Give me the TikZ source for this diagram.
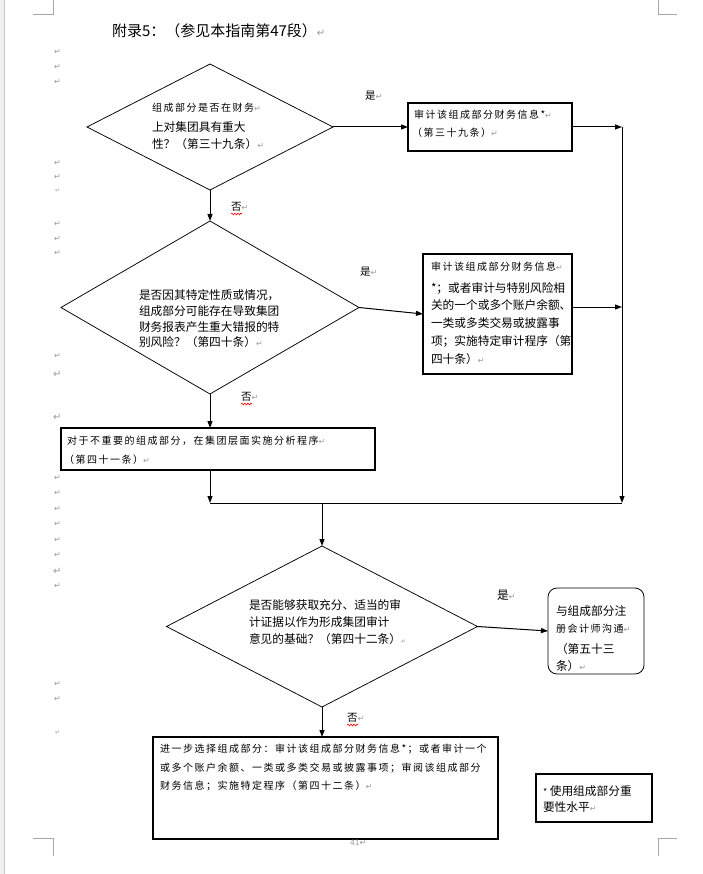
\documentclass[tikz,border=0pt]{standalone}
\usepackage{fontspec}
\setmainfont{Noto Sans CJK SC}
\newfontfamily\cjk{Noto Sans CJK SC}
\newfontfamily\cjksp[LetterSpace=15]{Noto Sans CJK SC}
\newfontfamily\dv{DejaVu Sans}
\usetikzlibrary{shapes.geometric,arrows.meta,decorations.pathmorphing}
\definecolor{retgray}{HTML}{9A9A9A}
\definecolor{cropgray}{HTML}{A8A8A8}
\newcommand\rmk{{\dv\fontsize{8}{9}\selectfont\textcolor{retgray}{↵}}}
\newcommand\bigrmk{{\dv\fontsize{10}{11}\selectfont\textcolor{retgray}{↵}}}
\newcommand\smallrmk{{\dv\fontsize{6}{7}\selectfont\textcolor{retgray}{↵}}}
\newcommand\bigtxt{\cjk\fontsize{11.7}{14}\selectfont}
\newcommand\smtxt{\cjksp\fontsize{10}{12}\selectfont}
\newcommand\labtxt{\cjk\fontsize{10.5}{12}\selectfont}
\begin{document}
\begin{tikzpicture}[x=1pt,y=-1pt,
  diam/.style={draw, diamond, line width=0.75pt, inner sep=0pt, outer sep=0pt},
  boxn/.style={draw, rectangle, line width=1.1pt, inner sep=0pt, outer sep=0pt},
  conn/.style={line width=1pt, -{Triangle[length=7pt,width=5pt]}},
  plainln/.style={line width=1pt},
  txt/.style={anchor=west, inner sep=0pt, outer sep=0pt},
  crop/.style={draw=cropgray, line width=0.8pt},
  squig/.style={draw=red, line width=0.6pt, decorate, decoration={snake, amplitude=0.9pt, segment length=3pt}}
]
\useasboundingbox (0,0) rectangle (702,874);
\fill[white] (0,0) rectangle (702,874);
\fill[gray!12] (0,0) rectangle (4,874);
\draw[gray!45] (4,0) -- (4,874);
% crop marks
\draw[crop] (33,14) -- (53,14) -- (53,0);
\draw[crop] (658,0) -- (658,14) -- (677,14);
\draw[crop] (33,838) -- (53,838) -- (53,856);
\draw[crop] (677,838) -- (658,838) -- (658,856);
% margin paragraph marks
\foreach \yy [count=\i] in {52,67,82,163,177,224,239,253,356,478,493,509,524,540,555,586,684,699}
  \node[txt] (m\i) at (54,\yy) {\rmk};
\node[txt] (ms1) at (55,191) {\smallrmk};
\node[txt] (mb1) at (53,374) {\bigrmk};
\node[txt] (mb2) at (53,417) {\bigrmk};
\node[txt] (mb3) at (53,571) {\bigrmk};
\node[txt] (ms2) at (55,733) {\smallrmk};
% title
\node[txt] (title) at (112,31) {\cjk\fontsize{15}{17}\selectfont 附录5：（参见本指南第47段）\bigrmk};
% shapes
\node[diam, minimum width=246pt, minimum height=126pt] (d1) at (210,127) {};
\node[diam, minimum width=298pt, minimum height=173pt] (d2) at (210,307.5) {};
\node[diam, minimum width=311pt, minimum height=161pt] (d3) at (322,626.5) {};
\node[boxn, minimum width=164pt, minimum height=48pt] (b1) at (490,127) {};
\node[boxn, minimum width=149pt, minimum height=120pt] (b2) at (497.5,314) {};
\node[boxn, minimum width=314pt, minimum height=42pt] (b3) at (218,449) {};
\node[boxn, line width=0.8pt, rounded corners=9pt, minimum width=96pt, minimum height=86pt] (r1) at (596,631) {};
\node[boxn, minimum width=345pt, minimum height=102pt] (b4) at (325.5,788) {};
\node[boxn, minimum width=116pt, minimum height=48pt] (b5) at (594,798) {};
% texts diamond 1
\node[txt] (t1a) at (152,108) {\smtxt 组成部分是否在财务\rmk};
\node[txt] (t1b) at (152,127) {\bigtxt 上对集团具有重大};
\node[txt] (t1c) at (152,144) {\bigtxt 性？（第三十九条）\rmk};
% box 1
\node[txt] (t2a) at (414,115) {\smtxt 审计该组成部分财务信息*\rmk};
\node[txt] (t2b) at (412,133) {\smtxt （第三十九条）\rmk};
% diamond 2
\node[txt] (t3a) at (139,295) {\bigtxt 是否因其特定性质或情况，};
\node[txt] (t3b) at (139,311) {\bigtxt 组成部分可能存在导致集团};
\node[txt] (t3c) at (139,327) {\bigtxt 财务报表产生重大错报的特};
\node[txt] (t3d) at (139,342) {\bigtxt 别风险？（第四十条）\rmk};
% box 2
\node[txt] (t4a) at (431,267) {\smtxt 审计该组成部分财务信息\rmk};
\node[txt] (t4b) at (431,288) {\bigtxt *；或者审计与特别风险相};
\node[txt] (t4c) at (431,305) {\bigtxt 关的一个或多个账户余额、};
\node[txt] (t4d) at (431,323) {\bigtxt 一类或多类交易或披露事};
\node[txt] (t4e) at (431,341) {\bigtxt 项；实施特定审计程序（第};
\node[txt] (t4f) at (431,359) {\bigtxt 四十条）\rmk};
% box 3
\node[txt] (t5a) at (67,441) {\smtxt 对于不重要的组成部分，在集团层面实施分析程序\rmk};
\node[txt] (t5b) at (64,460) {\smtxt （第四十一条）\rmk};
% diamond 3
\node[txt] (t6a) at (249,605) {\bigtxt 是否能够获取充分、适当的审};
\node[txt] (t6b) at (249,622) {\bigtxt 计证据以作为形成集团审计};
\node[txt] (t6c) at (249,639) {\bigtxt 意见的基础？（第四十二条）\smallrmk};
% rounded box
\node[txt] (t7a) at (556,611) {\bigtxt 与组成部分注};
\node[txt] (t7b) at (556,629) {\smtxt 册会计师沟通\rmk};
\node[txt] (t7c) at (556,649) {\bigtxt （第五十三};
\node[txt] (t7d) at (556,666) {\bigtxt 条）\rmk};
% box 4
\node[txt] (t8a) at (160,749) {\smtxt 进一步选择组成部分：审计该组成部分财务信息*；或者审计一个};
\node[txt] (t8b) at (160,768) {\smtxt 或多个账户余额、一类或多类交易或披露事项；审阅该组成部分};
\node[txt] (t8c) at (160,786) {\smtxt 财务信息；实施特定程序（第四十二条）\rmk};
% box 5
\node[txt] (t9a) at (543,791) {\bigtxt {\fontsize{9}{10}\selectfont *} 使用组成部分重};
\node[txt] (t9b) at (543,807) {\bigtxt 要性水平\rmk};
% page number
\node[txt] (pg) at (350,843) {\dv\fontsize{7.5}{8}\selectfont\textcolor{retgray}{41}\rmk};
% labels
\node[txt] (y1) at (365,96) {\labtxt 是\rmk};
\node[txt] (y2) at (360,272) {\labtxt 是\rmk};
\node[txt] (y3) at (497,595) {\bigtxt 是\rmk};
\node[txt] (n1) at (231,207) {\labtxt 否\rmk};
\node[txt] (n2) at (241,397) {\labtxt 否\rmk};
\node[txt] (n3) at (347,718) {\labtxt 否\rmk};
\draw[squig] (231,214) -- (242,214);
\draw[squig] (241,404) -- (252,404);
\draw[squig] (347,725) -- (358,725);
% junction coordinates
\coordinate (vt) at (622,127);
\coordinate (a2) at (622,307);
\coordinate (jr) at (622,503);
\coordinate (jl) at (210,503);
% connectors
\draw[conn] (d1.south) -- (d2.north);
\draw[conn] (d1.east) -- (b1.west);
\draw[conn] (b1.east) -- (vt);
\draw[conn] (d2.east) -- (b2.west);
\draw[conn] (b2.east |- a2) -- (a2);
\draw[conn] (vt) -- (jr);
\draw[conn] (d2.south) -- (d2.south |- b3.north);
\draw[conn] (jl |- b3.south) -- (jl);
\draw[plainln] (jl) -- (jr);
\draw[conn] (d3.north |- jl) -- (d3.north);
\draw[conn] (d3.east) -- (r1.west);
\draw[conn] (d3.south) -- (d3.south |- b4.north);
\end{tikzpicture}
\end{document}
